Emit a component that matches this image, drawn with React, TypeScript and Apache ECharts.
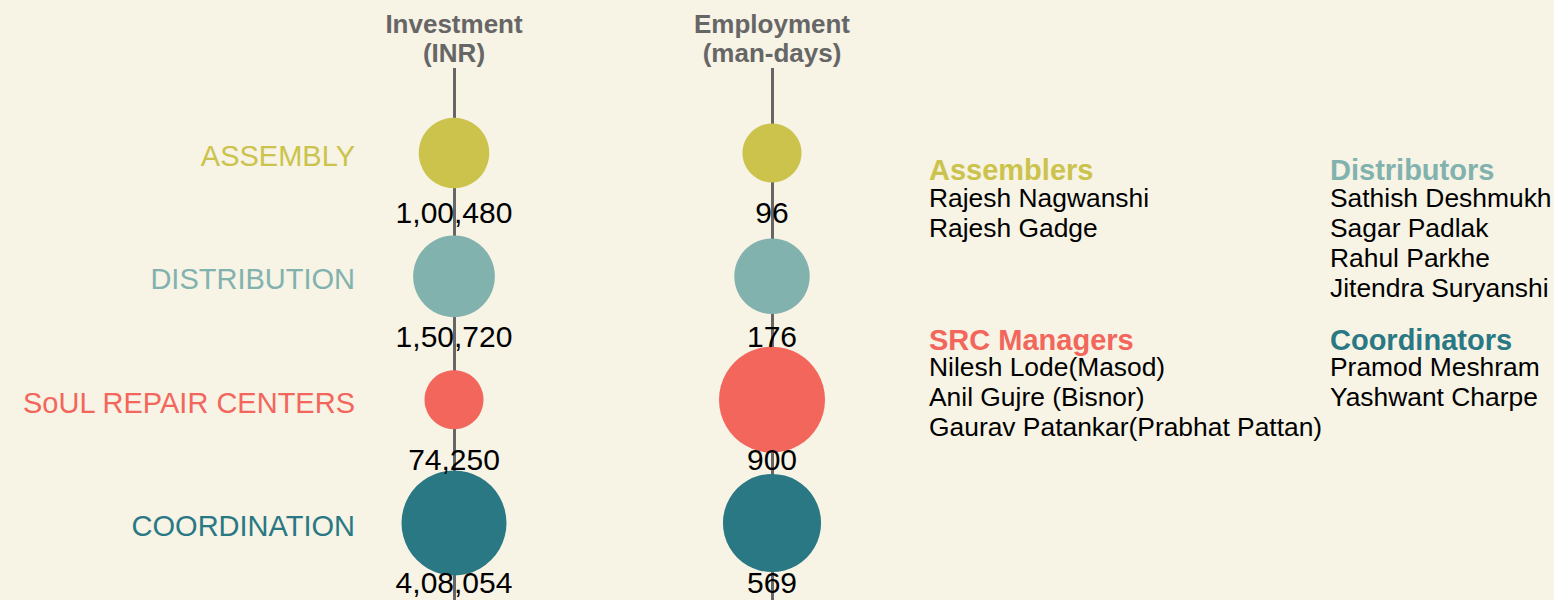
import React, { useEffect, useRef } from 'react';
import * as echarts from 'echarts';

// ---- data ----
const categories = ['ASSEMBLY', 'DISTRIBUTION', 'SoUL REPAIR CENTERS', 'COORDINATION'];
const categoryColors = ['#CBC34B', '#82B2AE', '#F2665C', '#297884'];
const measures = ['Investment\n(INR)', 'Employment\n(man-days)'];
const investment = [100480, 150720, 74250, 408054];
const employment = [96, 176, 900, 569];

const teamTitles = ['Assemblers', 'Distributors', 'SRC Managers', 'Coordinators'];
const assemblers = ['Rajesh Nagwanshi', 'Rajesh Gadge'];
const distributors = ['Sathish Deshmukh', 'Sagar Padlak', 'Rahul Parkhe', 'Jitendra Suryanshi'];
const srcManagers = ['Nilesh Lode(Masod)', 'Anil Gujre (Bisnor)', 'Gaurav Patankar(Prabhat Pattan)'];
const coordinators = ['Pramod Meshram', 'Yashwant Charpe'];

const FONT = "'Liberation Sans', Arial, Helvetica, sans-serif";
const BG = '#F7F3E5';

function formatIN(n: number): string {
  const s = String(Math.round(n));
  if (s.length <= 3) return s;
  const last3 = s.slice(-3);
  let rest = s.slice(0, -3);
  const parts: string[] = [];
  while (rest.length > 2) {
    parts.unshift(rest.slice(-2));
    rest = rest.slice(0, -2);
  }
  if (rest) parts.unshift(rest);
  return parts.join(',') + ',' + last3;
}

function sizeScale(values: number[], minD: number, maxD: number) {
  const lo = Math.log(Math.min(...values));
  const hi = Math.log(Math.max(...values));
  return (v: number) => minD + (maxD - minD) * Math.pow((Math.log(v) - lo) / (hi - lo), 0.8);
}

export default function App() {
  const ref = useRef<HTMLDivElement>(null);

  useEffect(() => {
    document.body.style.margin = '0';
    document.body.style.background = BG;
    if (!ref.current) return;
    const chart = echarts.init(ref.current, undefined, { renderer: 'svg' });

    const invSize = sizeScale(investment, 59, 105);
    const empSize = sizeScale(employment, 59, 106);

    const makeSeries = (name: string, values: number[], col: number, sizeFn: (v: number) => number) => ({
      type: 'scatter',
      name,
      xAxisIndex: 1,
      yAxisIndex: 1,
      symbol: 'circle',
      data: values.map((v, i) => ({ value: [col, i, v], itemStyle: { color: categoryColors[i], opacity: 1 } })),
      symbolSize: (val: number[]) => sizeFn(val[2]),
      label: {
        show: true,
        position: 'inside',
        offset: [0, 60],
        formatter: (p: any) => formatIN(p.value[2]),
        color: '#000',
        fontSize: 30,
        fontFamily: FONT,
      },
      emphasis: { disabled: true },
      z: 3,
    });

    const blocks = [
      { title: teamTitles[0], names: assemblers, color: categoryColors[0], x: 929, titleY: 170, namesY: 182.5 },
      { title: teamTitles[1], names: distributors, color: categoryColors[1], x: 1330, titleY: 170, namesY: 182.5 },
      { title: teamTitles[2], names: srcManagers, color: categoryColors[2], x: 929, titleY: 339.5, namesY: 352 },
      { title: teamTitles[3], names: coordinators, color: categoryColors[3], x: 1330, titleY: 339.5, namesY: 352 },
    ];

    const graphic: any[] = [];
    blocks.forEach((b) => {
      graphic.push({
        type: 'text',
        x: b.x,
        y: b.titleY,
        style: {
          text: b.title,
          fill: b.color,
          fontSize: 29,
          fontWeight: 'bold',
          fontFamily: FONT,
          align: 'left',
          verticalAlign: 'middle',
        },
      });
      graphic.push({
        type: 'text',
        x: b.x,
        y: b.namesY,
        style: {
          text: b.names.join('\n'),
          fill: '#000',
          fontSize: 26.4,
          fontFamily: FONT,
          lineHeight: 30,
          align: 'left',
          verticalAlign: 'top',
        },
      });
    });

    const option: any = {
      animation: false,
      backgroundColor: BG,
      grid: [
        { left: 454, right: 782, top: 68, bottom: 0 },
        { left: 454, right: 782, top: 91.33, height: 493.33 },
      ],
      xAxis: [
        {
          gridIndex: 0,
          type: 'category',
          data: measures,
          boundaryGap: false,
          position: 'top',
          axisLine: { show: false },
          axisTick: { show: false },
          axisLabel: {
            interval: 0,
            color: '#666666',
            fontSize: 26,
            fontWeight: 'bold',
            fontFamily: FONT,
            lineHeight: 29,
            margin: 1,
          },
          splitLine: { show: true, interval: 0, lineStyle: { color: '#666666', width: 3 } },
        },
        {
          gridIndex: 1,
          type: 'category',
          data: measures,
          boundaryGap: false,
          show: false,
        },
      ],
      yAxis: [
        { gridIndex: 0, type: 'value', show: false, min: 0, max: 1 },
        {
          gridIndex: 1,
          type: 'category',
          data: categories,
          inverse: true,
          axisLine: { show: false },
          axisTick: { show: false },
          splitLine: { show: false },
          axisLabel: {
            interval: 0,
            color: (_v: any, i: number) => categoryColors[i],
            fontSize: 29,
            fontFamily: FONT,
            margin: 99,
            verticalAlign: 'top',
            lineHeight: 6,
          },
        },
      ],
      series: [
        makeSeries('Investment', investment, 0, invSize),
        makeSeries('Employment', employment, 1, empSize),
      ],
      graphic,
    };

    chart.setOption(option);
    return () => chart.dispose();
  }, []);

  return <div ref={ref} style={{ width: 1554, height: 600 }} />;
}
